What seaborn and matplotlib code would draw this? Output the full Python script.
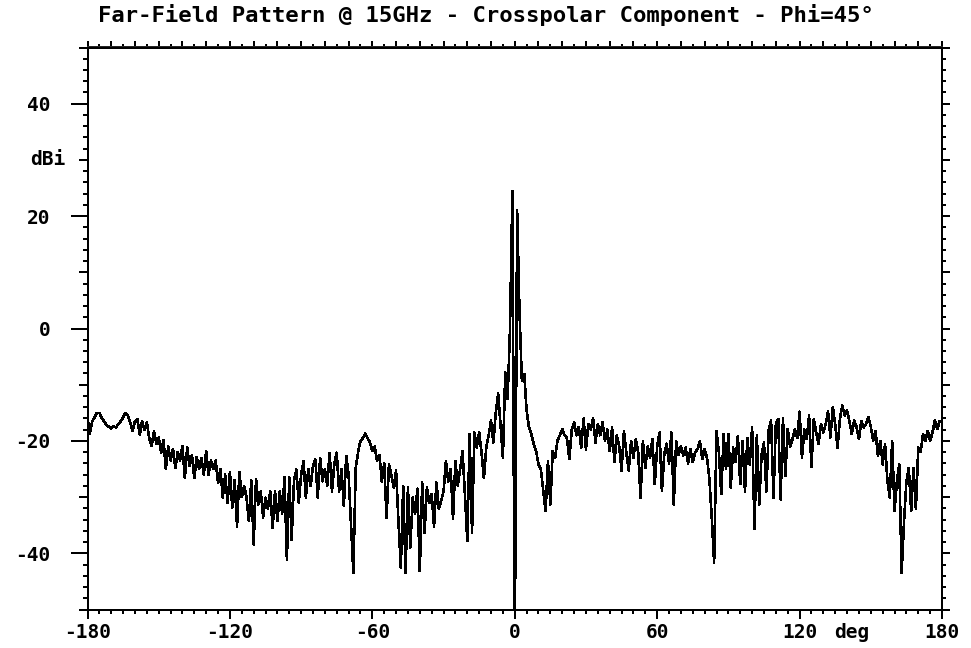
import numpy as np
import matplotlib
matplotlib.use("Agg")
import matplotlib.pyplot as plt
import seaborn as sns
from matplotlib.ticker import MultipleLocator, NullFormatter, FixedLocator

# ---------------------------------------------
# data (1 deg steps)
# ---------------------------------------------
angle_deg = np.arange(-180, 181, 1)

gain_db = [
    # -180 .. -171
    -16.0, -18.7, -16.5, -15.8, -15.0, -15.0, -16.0, -16.5, -17.2, -17.5,
    # -170 .. -161
    -17.8, -17.4, -17.6, -17.0, -16.5, -15.8, -15.0, -15.5, -16.8, -18.2,
    # -160 .. -151
    -16.5, -16.1, -18.9, -16.5, -18.0, -16.7, -19.5, -20.9, -18.3, -20.5,
    # -150 .. -141
    -19.4, -22.1, -19.8, -25.0, -21.0, -23.5, -21.4, -24.8, -22.0, -23.5,
    # -140 .. -131
    -20.9, -26.6, -21.2, -24.5, -22.5, -26.6, -22.9, -25.0, -23.0, -26.0,
    # -130 .. -121
    -21.8, -26.0, -23.5, -25.0, -23.5, -27.5, -25.0, -30.1, -26.0, -31.0,
    # -120 .. -111
    -25.5, -31.9, -27.0, -35.2, -25.5, -30.0, -28.0, -30.1, -34.3, -27.0,
    # -110 .. -101
    -38.4, -26.8, -31.3, -29.0, -33.6, -30.1, -32.0, -29.0, -35.5, -28.9,
    # -100 .. -91
    -34.3, -29.0, -33.0, -26.5, -41.1, -26.5, -37.6, -27.0, -25.1, -31.0,
    # -90 .. -81
    -26.0, -23.6, -30.1, -25.0, -28.0, -24.5, -23.3, -30.1, -23.0, -27.2,
    # -80 .. -71
    -25.0, -28.0, -22.1, -29.0, -24.0, -22.1, -29.0, -25.0, -31.6, -22.7,
    # -70 .. -61
    -26.0, -34.9, -43.5, -24.8, -22.0, -20.0, -19.5, -18.7, -19.5, -20.3,
    # -60 .. -51
    -21.8, -21.0, -23.6, -22.5, -27.2, -24.0, -33.7, -24.2, -26.0, -28.3,
    # -50 .. -41
    -25.3, -34.3, -42.6, -28.0, -43.5, -28.3, -39.0, -30.1, -33.0, -28.5,
    # -40 .. -31
    -43.2, -27.4, -36.4, -28.3, -31.0, -29.5, -35.2, -27.4, -32.0, -30.7,
    # -30 .. -21
    -29.0, -23.6, -27.2, -25.0, -33.9, -23.6, -28.0, -25.0, -21.8, -29.5,
    # -20 .. -11
    -37.8, -18.8, -36.4, -18.5, -21.2, -18.5, -22.0, -26.6, -21.2, -19.0,
    # -10 .. -1
    -16.4, -20.3, -15.0, -11.6, -17.0, -23.0, -7.8, -12.5, 0.0, 24.5,
    # 0 .. 9
    -60.0, 21.0, 3.0, -9.3, -8.1, -14.6, -17.6, -18.8, -20.6, -21.8,
    # 10 .. 19
    -24.2, -25.0, -28.9, -32.5, -23.6, -31.3, -21.8, -23.0, -20.0, -19.0,
    # 20 .. 29
    -17.9, -19.0, -19.5, -23.2, -18.0, -16.7, -19.0, -17.5, -21.2, -16.0,
    # 30 .. 39
    -21.5, -17.0, -18.0, -16.0, -20.3, -17.0, -19.0, -16.7, -20.0, -18.0,
    # 40 .. 49
    -21.8, -17.6, -23.8, -19.0, -21.0, -25.3, -18.2, -22.0, -25.3, -20.0,
    # 50 .. 59
    -23.0, -19.7, -22.0, -30.1, -20.0, -24.8, -21.0, -23.0, -19.7, -27.7,
    # 60 .. 69
    -21.0, -18.5, -28.9, -22.4, -20.5, -24.0, -18.5, -31.3, -20.0, -22.5,
    # 70 .. 79
    -21.0, -22.6, -21.2, -24.0, -21.5, -23.8, -22.0, -21.5, -20.0, -23.2,
    # 80 .. 89
    -21.5, -23.0, -26.8, -33.7, -41.7, -18.2, -22.0, -29.5, -18.8, -25.0,
    # 90 .. 99
    -18.8, -28.3, -21.2, -23.8, -19.1, -27.7, -20.0, -29.0, -19.5, -24.2,
    # 100 .. 109
    -17.6, -35.6, -19.0, -31.3, -22.4, -20.3, -29.0, -18.0, -16.4, -30.1,
    # 110 .. 119
    -17.0, -16.1, -30.4, -16.0, -26.2, -17.9, -21.0, -19.7, -18.0, -19.5,
    # 120 .. 129
    -14.8, -23.0, -18.0, -19.7, -15.5, -24.6, -16.1, -18.5, -20.6, -17.0,
    # 130 .. 139
    -18.5, -17.0, -14.8, -19.4, -14.0, -17.0, -21.2, -16.0, -13.7, -15.5,
    # 140 .. 149
    -14.6, -16.5, -18.8, -16.4, -17.5, -19.7, -16.5, -17.6, -17.0, -15.8,
    # 150 .. 159
    -17.5, -20.0, -18.2, -22.7, -20.0, -24.2, -20.6, -27.0, -30.1, -20.0,
    # 160 .. 169
    -32.5, -27.2, -24.2, -43.5, -34.3, -27.2, -24.8, -32.5, -24.8, -32.1,
    # 170 .. 180
    -21.2, -22.0, -18.8, -20.0, -18.2, -20.0, -18.5, -16.4, -17.9, -16.5, -16.7,
]

title = "Far-Field Pattern @ 15GHz - Crosspolar Component - Phi=45\u00b0"
x_labels = [-180, -120, -60, 0, 60, 120, 180]
y_labels = [-40, -20, 0, 20, 40]

# ---------------------------------------------
# style
# ---------------------------------------------
sns.set_style("white")
plt.rcParams["font.family"] = ["DejaVu Sans Mono", "DejaVu Sans"]
plt.rcParams["font.weight"] = "bold"
plt.rcParams["text.color"] = "black"
plt.rcParams["xtick.color"] = "black"
plt.rcParams["ytick.color"] = "black"

px = 72 / 100  # points per pixel at dpi 100

fig = plt.figure(figsize=(9.71, 6.48), dpi=100)
ax = fig.add_axes([87.5 / 971, 1 - 609.5 / 648, (942 - 87.5) / 971, (609.5 - 47.5) / 648])

sns.lineplot(x=angle_deg, y=gain_db, color="black", linewidth=1.6 * px,
             estimator=None, sort=False, ax=ax, antialiased=False)

ax.set_xlim(-180, 180)
ax.set_ylim(-50, 50)
ax.set_xlabel("")
ax.set_ylabel("")

for s in ax.spines.values():
    s.set_linewidth(2 * px)
    s.set_color("black")

# bottom / left ticks with labels
ax.set_xticks(x_labels)
ax.set_xticklabels([str(v) for v in x_labels])
ax.set_yticks(y_labels)
ax.set_yticklabels([str(v) for v in y_labels])
ax.xaxis.set_minor_locator(MultipleLocator(5))
ax.yaxis.set_minor_locator(MultipleLocator(2))

ax.tick_params(axis="x", which="major", direction="out", length=9 * px,
               width=2 * px, pad=5 * px, labelsize=14, colors="black")
ax.tick_params(axis="x", which="minor", direction="out", length=4 * px,
               width=2 * px, colors="black")
ax.tick_params(axis="y", which="major", direction="out", length=17 * px,
               width=2 * px, pad=20 * px, labelsize=14, colors="black")
ax.tick_params(axis="y", which="minor", direction="out", length=5 * px,
               width=2 * px, colors="black")
ax.tick_params(which="both", bottom=True, left=True, top=False, right=False)

# medium ticks at odd tens on the left
sec_left = ax.secondary_yaxis("left")
sec_left.yaxis.set_major_locator(FixedLocator([-50, -30, -10, 10, 30, 50]))
sec_left.yaxis.set_major_formatter(NullFormatter())
sec_left.tick_params(direction="out", length=9 * px, width=2 * px, colors="black")
sec_left.spines["left"].set_visible(False)

# right ticks
sec_right = ax.secondary_yaxis("right")
sec_right.yaxis.set_major_locator(MultipleLocator(10))
sec_right.yaxis.set_minor_locator(MultipleLocator(2))
sec_right.yaxis.set_major_formatter(NullFormatter())
sec_right.tick_params(which="major", direction="out", length=8 * px, width=2 * px, colors="black")
sec_right.tick_params(which="minor", direction="out", length=4 * px, width=2 * px, colors="black")
sec_right.spines["right"].set_linewidth(2 * px)

# top ticks
sec_top = ax.secondary_xaxis("top")
sec_top.xaxis.set_major_locator(MultipleLocator(10))
sec_top.xaxis.set_minor_locator(MultipleLocator(5))
sec_top.xaxis.set_major_formatter(NullFormatter())
sec_top.tick_params(which="major", direction="out", length=6 * px, width=2 * px, colors="black")
sec_top.tick_params(which="minor", direction="out", length=3 * px, width=2 * px, colors="black")
sec_top.spines["top"].set_linewidth(2 * px)

# unit labels
ax.annotate("dBi", xy=(0, 30), xycoords=("axes fraction", "data"),
            xytext=(-22 * px, 0), textcoords="offset points",
            ha="right", va="center", fontsize=14, fontweight="bold")
ax.annotate("deg", xy=(142, 0), xycoords=("data", "axes fraction"),
            xytext=(0, -14 * px), textcoords="offset points",
            ha="center", va="top", fontsize=14, fontweight="bold")

fig.text(0.5, 1 - 15 / 648, title, ha="center", va="center",
         fontsize=16, fontweight="bold")

fig.savefig("out.png", dpi=100, facecolor="white")
